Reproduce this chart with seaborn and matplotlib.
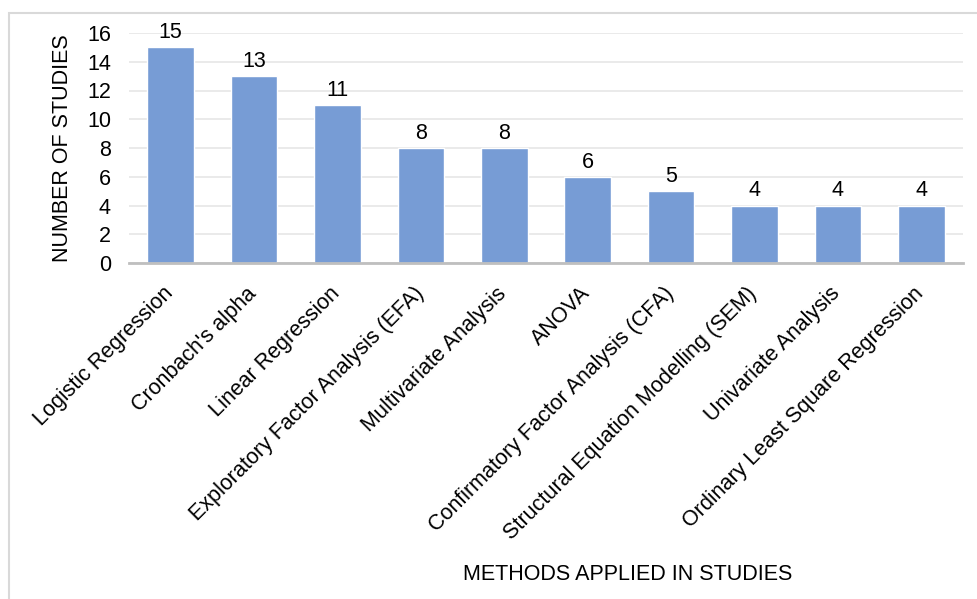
import matplotlib
matplotlib.use("Agg")
import matplotlib.pyplot as plt
import matplotlib.transforms as mtransforms
import seaborn as sns
import pandas as pd
from matplotlib.patches import Rectangle

methods = ["Logistic Regression", "Cronbach's alpha", "Linear Regression",
           "Exploratory Factor Analysis (EFA)", "Multivariate Analysis", "ANOVA",
           "Confirmatory Factor Analysis (CFA)", "Structural Equation Modelling (SEM)",
           "Univariate Analysis", "Ordinary Least Square Regression"]
counts = [15, 13, 11, 8, 8, 6, 5, 4, 4, 4]
yticks = [0, 2, 4, 6, 8, 10, 12, 14, 16]

sns.set_theme(style="white")
plt.rcParams['font.family'] = ['Liberation Sans', 'DejaVu Sans']

FS = 15.5
df = pd.DataFrame({"method": methods, "count": counts})

fig = plt.figure(figsize=(9.77, 5.99), dpi=100)
ax = fig.add_axes([129/977, 1 - 263/599, (963-129)/977, (263-33)/599])

sns.barplot(data=df, x="method", y="count", color="#779CD5", saturation=1,
            width=0.56, ax=ax)

ax.set_ylim(0, 16)
ax.set_xlim(-0.5, len(methods) - 0.5)
ax.set_yticks(yticks)
ax.set_yticklabels([str(v) for v in yticks], fontsize=FS, color="#000000")
ax.yaxis.grid(True, color="#E6E6E6", linewidth=1.2)
ax.set_axisbelow(True)
for s in ["top", "right", "left"]:
    ax.spines[s].set_visible(False)
ax.spines["bottom"].set_color("#BFBFBF")
ax.spines["bottom"].set_linewidth(2)
ax.tick_params(axis="y", length=0, pad=13)

ax.set_xticks(range(len(methods)))
ax.set_xticklabels(methods, rotation=45, ha="right", rotation_mode="anchor",
                   fontsize=FS, color="#000000")
ax.tick_params(axis="x", length=0, pad=13)
offset = mtransforms.ScaledTranslation(-8/100, -2/100, fig.dpi_scale_trans)
for lbl in ax.get_xticklabels():
    lbl.set_transform(lbl.get_transform() + offset)

for c in ax.containers:
    ax.bar_label(c, labels=[str(v) for v in counts], padding=3, fontsize=FS, color="#000000")

ax.set_xlabel("")
ax.set_ylabel("NUMBER OF STUDIES", fontsize=FS, color="#000000", labelpad=10)
fig.text(628/977, 1 - 575/599, "METHODS APPLIED IN STUDIES", ha="center", va="center",
         fontsize=FS, color="#000000")

fig.patches.append(Rectangle((9/977, -0.02), 1.1, 1 - 13/599 + 0.02, transform=fig.transFigure,
                             fill=False, edgecolor="#D9D9D9", linewidth=1.5))

fig.savefig("out.png", dpi=100)
